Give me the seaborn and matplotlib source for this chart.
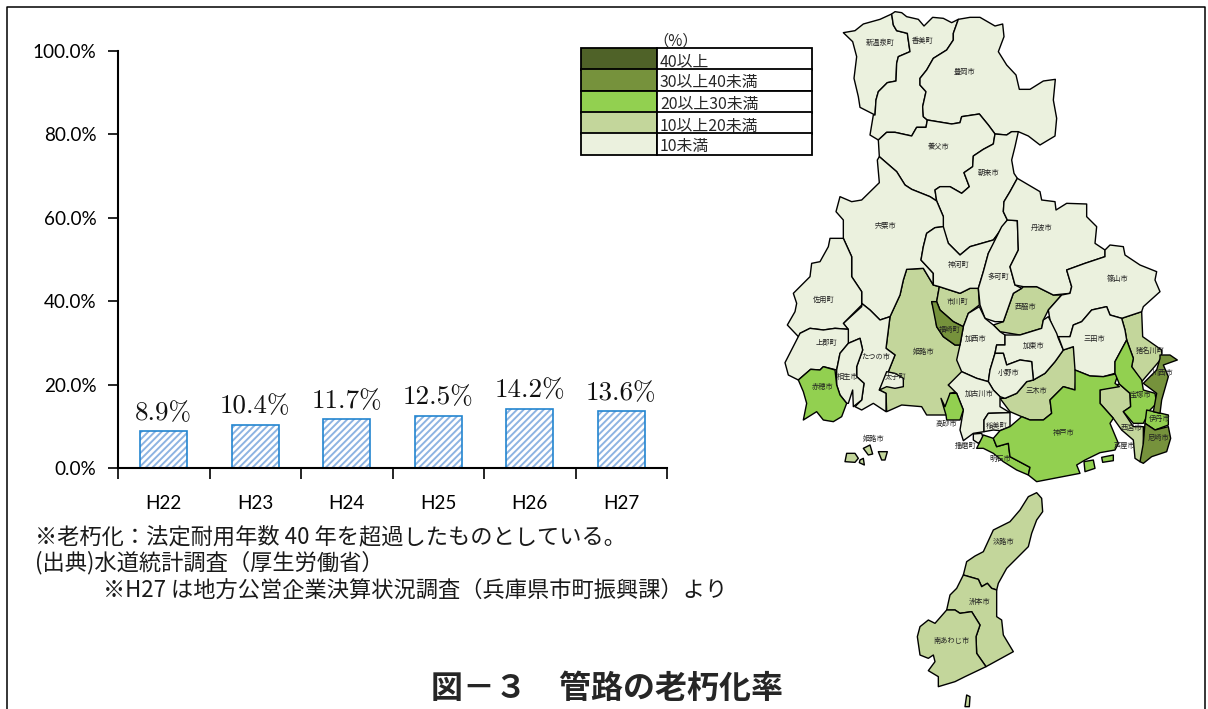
import matplotlib
matplotlib.use("Agg")
import matplotlib.pyplot as plt
from matplotlib.patches import Polygon, Rectangle
import pandas as pd
import seaborn as sns

# chart data
years = ["H22", "H23", "H24", "H25", "H26", "H27"]
rates = [8.9, 10.4, 11.7, 12.5, 14.2, 13.6]
y_ticks = [0, 20, 40, 60, 80, 100]

legend_labels = ["40以上", "30以上40未満", "20以上30未満", "10以上20未満", "10未満"]
legend_colors = ["#4f6228", "#76923c", "#92d050", "#c3d69b", "#ebf1de"]

notes = ["※老朽化：法定耐用年数 40 年を超過したものとしている。",
         "(出典)水道統計調査（厚生労働省）",
         "※H27 は地方公営企業決算状況調査（兵庫県市町振興課）より"]
title = "図－３　管路の老朽化率"

# map outlines (map units = 3 x pixels, origin top left of map area)
shinonsen = [(190,98),(225,92),(250,72),(300,58),(335,42),(340,75),(350,92),(382,100),(390,155),(355,170),(350,190),(348,243),(322,248),(295,275),(288,300),(285,345),(240,322),(235,290),(222,235),(230,170),(218,125)]
kami = [(335,42),(345,35),(365,38),(380,50),(415,58),(432,78),(458,52),(490,55),(515,68),(535,58),(520,100),(520,120),(500,150),(460,175),(440,210),(420,235),(420,255),(438,275),(428,320),(430,350),(442,360),(438,382),(410,382),(395,408),(345,397),(320,397),(295,420),(270,405),(280,345),(285,345),(288,300),(295,275),(322,248),(348,243),(350,190),(355,170),(390,155),(382,100),(350,92),(340,75)]
toyooka = [(535,58),(570,52),(600,52),(645,78),(668,72),(672,110),(655,155),(680,195),(708,225),(718,268),(750,268),(790,243),(826,238),(820,300),(830,355),(825,408),(780,435),(745,408),(715,395),(695,395),(680,405),(645,402),(625,375),(598,342),(545,350),(540,368),(515,372),(442,360),(430,350),(428,320),(438,275),(420,255),(420,235),(440,210),(460,175),(500,150),(520,120),(520,100)]
yabu = [(295,420),(320,397),(345,397),(395,408),(410,382),(438,382),(442,360),(515,372),(540,368),(545,350),(598,342),(625,375),(645,402),(640,432),(610,448),(580,468),(578,500),(552,518),(568,560),(545,580),(510,560),(480,560),(465,570),(470,603),(450,590),(395,568),(375,555),(350,515),(298,470)]
asago = [(645,402),(680,405),(695,395),(715,395),(705,440),(695,480),(702,520),(712,535),(690,575),(672,605),(670,635),(682,660),(665,685),(640,720),(570,740),(540,765),(505,730),(490,690),(490,650),(470,603),(465,570),(480,560),(510,560),(545,580),(568,560),(552,518),(578,500),(580,468),(610,448),(640,432)]
shiso = [(298,470),(350,515),(375,555),(395,568),(450,590),(470,603),(490,650),(490,680),(465,683),(440,700),(430,740),(423,780),(460,820),(460,855),(430,805),(380,808),(370,840),(360,885),(330,950),(300,960),(270,930),(245,910),(245,875),(215,830),(215,770),(190,715),(190,660),(168,635),(180,590),(215,605),(245,600),(298,548),(292,480)]
kamikawa = [(490,680),(505,730),(540,765),(570,740),(640,720),(665,690),(625,760),(610,815),(595,865),(570,865),(540,880),(478,860),(460,855),(460,820),(423,780),(430,740),(440,700),(465,683)]
tatsuno = [(245,910),(270,930),(300,960),(330,950),(318,1045),(345,1065),(325,1115),(298,1170),(318,1180),(318,1235),(280,1210),(245,1230),(225,1220),(245,1200),(252,1150),(230,1130),(230,1100),(248,1050),(240,1015),(205,1030),(205,990),(190,970),(245,920)]
sayo = [(150,715),(145,740),(120,785),(95,790),(90,830),(40,880),(50,910),(45,935),(22,975),(60,1015),(60,1000),(90,985),(130,990),(165,985),(205,988),(190,970),(245,915),(245,875),(215,830),(215,770),(190,715)]
kamigori = [(60,1000),(90,985),(130,990),(165,985),(205,988),(205,1030),(180,1060),(170,1110),(130,1100),(120,1110),(92,1108),(55,1140),(25,1125),(15,1088)]
ako = [(55,1140),(92,1108),(120,1110),(130,1100),(165,1110),(170,1155),(180,1185),(200,1210),(185,1250),(160,1265),(130,1260),(110,1235),(70,1260),(80,1210),(70,1175)]
aioi = [(205,1030),(240,1015),(248,1050),(230,1100),(230,1130),(252,1150),(245,1200),(220,1220),(218,1170),(205,1210),(200,1210),(180,1185),(170,1155),(170,1110),(180,1060)]
himeji = [(380,808),(430,805),(460,855),(478,860),(470,905),(455,905),(465,940),(470,980),(490,1010),(525,1035),(540,1035),(538,1085),(560,1115),(545,1130),(505,1155),(530,1175),(510,1180),(500,1245),(440,1245),(425,1220),(365,1215),(320,1235),(318,1180),(298,1170),(325,1115),(345,1065),(318,1045),(330,950),(360,885),(370,840)]
taishi = [(298,1170),(320,1115),(345,1120),(370,1135),(370,1160),(345,1165),(320,1160)]
ichikawa = [(478,860),(540,880),(570,865),(595,865),(598,915),(565,940),(550,980),(520,965),(480,930),(470,905)]
fukusaki = [(455,905),(470,905),(480,930),(520,965),(550,980),(540,1035),(525,1035),(490,1010),(470,980),(462,940)]
taka = [(665,680),(682,660),(712,662),(715,750),(690,800),(705,855),(725,865),(700,880),(670,965),(645,965),(615,955),(600,915),(595,865),(610,815),(625,760)]
tamba = [(712,535),(780,575),(785,600),(825,605),(828,630),(860,610),(920,612),(920,650),(950,680),(945,730),(975,750),(975,770),(915,790),(860,810),(875,860),(870,880),(820,885),(770,860),(730,860),(705,855),(690,800),(715,750),(712,662),(682,660),(670,635),(672,605),(690,575)]
sasayama = [(975,750),(990,735),(1030,740),(1035,765),(1080,795),(1130,815),(1125,840),(1140,875),(1090,920),(1085,935),(1025,955),(990,945),(980,920),(935,930),(905,965),(880,975),(870,1010),(830,1010),(810,960),(805,930),(845,885),(870,880),(875,860),(860,810),(915,790),(975,770)]
nishiwaki = [(730,860),(770,860),(820,885),(845,885),(805,930),(790,960),(785,985),(720,1005),(660,995),(640,975),(670,965),(700,880),(725,865)]
kasai = [(598,920),(615,955),(640,975),(660,995),(675,1005),(675,1035),(650,1035),(645,1060),(630,1110),(625,1145),(590,1135),(545,1115),(530,1080),(540,1035),(550,980),(565,940)]
kato = [(675,1005),(720,1005),(785,985),(790,960),(805,950),(830,1000),(835,1015),(850,1050),(825,1085),(795,1120),(760,1140),(755,1085),(720,1080),(680,1095),(670,1060),(645,1060),(650,1035),(675,1035)]
ono = [(645,1060),(670,1060),(680,1095),(720,1080),(755,1085),(760,1140),(740,1145),(710,1180),(675,1195),(660,1190),(640,1170),(625,1145),(630,1110)]
miki = [(850,1050),(880,1040),(890,1110),(885,1170),(850,1160),(810,1200),(815,1240),(790,1260),(750,1260),(725,1250),(690,1235),(660,1195),(675,1195),(710,1180),(740,1145),(760,1140),(795,1120),(825,1085)]
kakogawa = [(545,1115),(590,1135),(625,1145),(640,1170),(660,1190),(660,1220),(690,1238),(625,1240),(612,1260),(612,1295),(580,1300),(550,1322),(540,1290),(550,1230),(530,1180),(505,1155)]
inami = [(625,1240),(690,1238),(690,1280),(660,1292),(640,1290),(612,1295),(612,1260)]
takasago = [(510,1180),(530,1180),(550,1230),(540,1260),(520,1260),(500,1260),(498,1245),(483,1195),(495,1220)]
harima = [(580,1302),(605,1300),(610,1315),(595,1330),(580,1320)]
akashi = [(610,1305),(640,1315),(650,1340),(685,1330),(690,1370),(750,1402),(745,1425),(710,1410),(670,1385),(640,1360),(610,1345),(590,1345)]
kobe = [(885,1110),(930,1128),(970,1130),(1015,1120),(1005,1150),(1018,1160),(960,1170),(960,1210),(1000,1255),(990,1270),(1015,1330),(1005,1350),(960,1358),(915,1380),(890,1395),(900,1420),(770,1445),(745,1425),(750,1402),(690,1370),(685,1330),(650,1340),(640,1315),(660,1292),(690,1280),(725,1250),(750,1260),(790,1260),(815,1240),(810,1200),(850,1160),(885,1170)]
kobe_pier1 = [(912,1385),(940,1380),(945,1405),(915,1415)]
kobe_pier2 = [(965,1372),(1000,1365),(1000,1382),(968,1387)]
nishinomiya = [(960,1170),(1018,1152),(1050,1180),(1052,1220),(1030,1235),(1060,1280),(1090,1280),(1090,1330),(1100,1370),(1080,1385),(1065,1375),(1060,1320),(1025,1290),(1000,1255),(960,1210)]
takarazuka = [(1040,1020),(1060,1075),(1055,1100),(1085,1140),(1090,1170),(1125,1180),(1130,1210),(1110,1230),(1090,1270),(1060,1270),(1030,1235),(1052,1220),(1050,1180),(1018,1152),(1005,1120),(1005,1085)]
inagawa = [(1025,955),(1085,935),(1088,1010),(1145,1050),(1145,1075),(1085,1145),(1055,1100),(1060,1075),(1040,1020),(1035,990)]
kawanishi = [(1140,1065),(1170,1065),(1192,1080),(1150,1095),(1165,1130),(1145,1200),(1140,1240),(1120,1235),(1130,1180),(1090,1150),(1130,1110),(1140,1075)]
itami = [(1100,1230),(1165,1245),(1165,1275),(1125,1290),(1095,1270)]
amagasaki = [(1095,1270),(1125,1290),(1165,1280),(1172,1315),(1160,1355),(1115,1370),(1090,1390),(1080,1385),(1090,1330)]
sanda = [(835,1010),(870,1010),(880,975),(905,965),(935,930),(980,920),(990,945),(1025,955),(1035,990),(1040,1020),(1005,1085),(1005,1120),(970,1130),(930,1128),(885,1110),(880,1040),(850,1050)]
ieshima1 = [(195,1385),(200,1360),(225,1360),(235,1375),(225,1387)]
ieshima2 = [(250,1345),(270,1335),(278,1362),(265,1365)]
ieshima3 = [(295,1355),(322,1355),(315,1380),(305,1380)]
ieshima4 = [(240,1380),(250,1375),(253,1395),(238,1388)]
awaji = [(770,1478),(785,1495),(788,1535),(770,1560),(755,1600),(745,1640),(710,1675),(680,1705),(655,1750),(650,1770),(635,1765),(622,1750),(605,1760),(595,1738),(550,1725),(560,1685),(585,1668),(610,1655),(640,1590),(690,1565),(720,1530),(745,1490)]
sumoto = [(550,1725),(595,1738),(605,1760),(622,1750),(635,1765),(650,1770),(650,1850),(665,1860),(670,1905),(700,1955),(618,2000),(590,1960),(588,1910),(600,1875),(575,1835),(540,1840),(525,1830),(500,1830),(510,1785),(530,1765)]
minamiawaji = [(500,1830),(525,1830),(540,1840),(575,1835),(600,1875),(588,1910),(590,1960),(618,2000),(555,2030),(525,2045),(475,2060),(475,2030),(445,2012),(465,1985),(460,1965),(445,1975),(420,1965),(412,1910),(420,1880),(445,1860),(465,1870)]
nushima = [(560,2085),(570,2090),(568,2120),(555,2120)]

# colour class of each outline (index into legend_colors)
regions_pale = [shinonsen, kami, toyooka, yabu, asago, shiso, kamikawa, tatsuno, sayo, kamigori, aioi, taishi, taka, tamba,
                sasayama, kasai, kato, ono, kakogawa, inami, harima, sanda]
regions_light = [himeji, ichikawa, nishiwaki, miki, nishinomiya, inagawa, ieshima1, ieshima2, ieshima3, ieshima4,
                 awaji, sumoto, minamiawaji, nushima]
regions_green = [ako, takasago, akashi, kobe, kobe_pier1, kobe_pier2, takarazuka, itami]
regions_olive = [fukusaki, kawanishi, amagasaki]

map_names = ["新温泉町","香美町","豊岡市","養父市","朝来市","宍粟市","丹波市","神河町","多可町","篠山市","佐用町","市川町","西脇市","福崎町","上郡町","加西市","三田市","加東市","たつの市","姫路市","猪名川町","小野市","川西市","太子町","相生市","赤穂市","加古川市","三木市","宝塚市","伊丹市","高砂市","稲美町","西宮市","神戸市","尼崎市","姫路市","播磨町","芦屋市","明石市","淡路市","洲本市","南あわじ市"]
name_x = [302,428,555,477,627,318,785,535,654,1012,130,533,737,508,140,588,943,762,288,430,1110,687,1148,348,202,128,598,770,1080,1138,500,650,1055,850,1134,280,558,1035,662,670,600,515]
name_y = [128,124,215,440,520,677,685,794,830,838,899,907,922,991,1028,1018,1018,1039,1070,1055,1052,1120,1120,1131,1130,1160,1183,1174,1184,1258,1273,1277,1285,1300,1313,1318,1337,1337,1378,1625,1805,1924]

sns.set_theme(style="white")
plt.rcParams["font.family"] = ["Lato", "Noto Sans CJK JP", "DejaVu Sans"]
plt.rcParams["hatch.linewidth"] = 1.4

W, H = 1208, 709
fig = plt.figure(figsize=(W / 100, H / 100), dpi=100, facecolor="white")

# page layer in pixel coordinates: frame, legend, notes, title
page = fig.add_axes([0, 0, 1, 1])
page.set_xlim(0, W)
page.set_ylim(H, 0)
page.axis("off")
page.plot([7, 7, 1205, 1205], [H, 7, 7, H], color="black", lw=1.1)

row_tops = [48, 69, 91, 112, 133]
for top, lab, col in zip(row_tops, legend_labels, legend_colors):
    page.add_patch(Rectangle((581, top), 76, 22, fc=col, ec="black", lw=1.3))
    page.add_patch(Rectangle((657, top), 155, 22, fc="white", ec="black", lw=1.3))
    page.text(660, top + 14, lab, fontsize=11.4, va="center", ha="left", family=["Noto Sans CJK JP"])
page.text(676, 41, "（%）", fontsize=11, va="center", ha="center", family=["Noto Sans CJK JP"])

note_pos = [(35, 537), (35, 563), (103, 590)]
for (nx, ny), txt in zip(note_pos, notes):
    page.text(nx, ny, txt, fontsize=16, va="center", ha="left", family=["Noto Sans CJK JP"], color="#1a1a1a")
page.text(607, 689, title, fontsize=23, fontweight="bold", va="center", ha="center", family=["Noto Sans CJK JP"])

# bar chart
ax = fig.add_axes([118 / W, (H - 468) / H, 549 / W, 417 / H])
ax.patch.set_alpha(0)
df = pd.DataFrame({"year": years, "rate": rates})
sns.barplot(data=df, x="year", y="rate", ax=ax, width=0.51, color="white", saturation=1,
            edgecolor="#8db4e2", linewidth=0, hatch="/////")
sns.barplot(data=df, x="year", y="rate", ax=ax, width=0.51, fill=False, color="#2385d0", saturation=1, linewidth=1.2)
ax.set_xlim(-0.5, 5.5)
ax.set_ylim(0, 100)
ax.set_xlabel("")
ax.set_ylabel("")
ax.set_yticks(y_ticks)
ax.set_yticklabels([f"{v:.1f}%" for v in y_ticks], fontsize=13.6)
ax.set_xticks(range(len(years)))
ax.set_xticklabels(years, fontsize=13.6)
ax.set_xticks([i - 0.5 for i in range(len(years) + 1)], minor=True)
ax.tick_params(axis="x", which="major", length=0, pad=19.5, colors="black")
ax.tick_params(axis="x", which="minor", bottom=True, length=8, width=1.2, color="black")
ax.tick_params(axis="y", left=True, length=7, width=1.2, color="black", pad=8.5, labelcolor="black")
for side in ["top", "right"]:
    ax.spines[side].set_visible(False)
for side in ["left", "bottom"]:
    ax.spines[side].set_linewidth(1.5)
    ax.spines[side].set_color("black")
for i, v in enumerate(rates):
    ax.text(i, v + 1.5, f"{v:.1f}%", ha="center", va="bottom", fontsize=19.5, family=["cmr10"], color="#111111")

# map, 3 map units to a pixel
mp = fig.add_axes([780 / W, 0, 428 / W, 1])
mp.set_xlim(0, 1284)
mp.set_ylim(2127, 0)
mp.axis("off")
groups = [(regions_light, 3), (regions_pale, 4), (regions_green, 2), (regions_olive, 1)]
for regions, idx in groups:
    for outline in regions:
        mp.add_patch(Polygon(outline, closed=True, fc=legend_colors[idx], ec="black", lw=1.0, joinstyle="round"))
for nm, nx, ny in zip(map_names, name_x, name_y):
    mp.text(nx, ny, nm, fontsize=5.2, ha="center", va="center", color="#222222", family=["Noto Sans CJK JP"])

fig.savefig("out.png", dpi=100)
